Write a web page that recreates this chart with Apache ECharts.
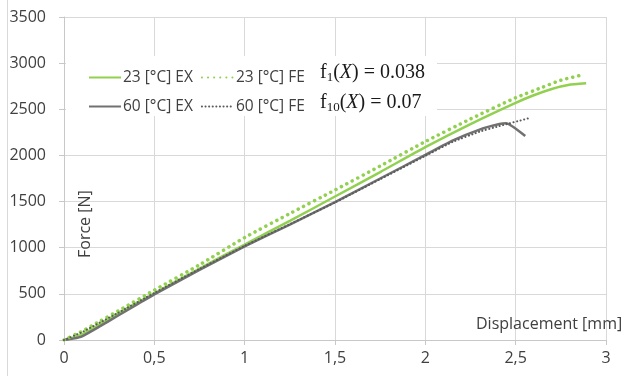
<!DOCTYPE html>
<html>
<head>
<meta charset="utf-8">
<script src="https://cdn.jsdelivr.net/npm/echarts@6/dist/echarts.min.js"></script>
<style>
  html, body { margin: 0; padding: 0; background: #fff; }
  #chart { width: 625px; height: 376px; }
</style>
</head>
<body>
<div id="chart"></div>
<script>
// Force–displacement curves: experiment (EX) vs finite element model (FE)
const ex23X = [0, 0.05, 0.1, 0.2, 0.3, 0.4, 0.5, 0.75, 1.0, 1.25, 1.5, 1.75, 2.0, 2.25, 2.5, 2.6, 2.7, 2.79, 2.89];
const ex23Y = [0, 25, 60, 170, 290, 400, 505, 775, 1035, 1290, 1555, 1820, 2090, 2340, 2570, 2652, 2720, 2763, 2781];

const fe23X = [0, 0.1, 0.2, 0.3, 0.5, 0.75, 1.0, 1.25, 1.5, 1.75, 2.0, 2.25, 2.5, 2.65, 2.75, 2.866];
const fe23Y = [0, 95, 205, 315, 540, 815, 1110, 1370, 1625, 1885, 2150, 2395, 2625, 2740, 2815, 2871];

const ex60X = [0, 0.05, 0.1, 0.2, 0.3, 0.4, 0.5, 0.75, 1.0, 1.25, 1.5, 1.75, 2.0, 2.15, 2.3, 2.41, 2.447, 2.553];
const ex60Y = [0, 15, 40, 150, 265, 380, 495, 760, 1015, 1250, 1495, 1750, 2005, 2160, 2280, 2340, 2348, 2210];

const fe60X = [0, 0.1, 0.2, 0.3, 0.5, 0.75, 1.0, 1.25, 1.5, 1.75, 2.0, 2.15, 2.3, 2.41, 2.577];
const fe60Y = [0, 85, 190, 295, 510, 770, 1020, 1255, 1490, 1742, 1995, 2145, 2257, 2318, 2405];

const seriesNames = ['23 [°C] EX', '23 [°C] FE', '60 [°C] EX', '60 [°C] FE'];
const fitLabels = [['1', '0.038'], ['10', '0.07']];

const xTicks = { min: 0, max: 3, step: 0.5 };
const yTicks = { min: 0, max: 3500, step: 500 };

const zip = (xs, ys) => xs.map((x, i) => [x, ys[i]]);

const green = '#92D050';
const grey = '#717171';
const greyDark = '#5a5a5a';
const labelColor = '#404040';
const uiFont = '"Open Sans", sans-serif';

const chart = echarts.init(document.getElementById('chart'), null, { renderer: 'canvas' });

const fitText = (sub, val) => ({
  type: 'text',
  z: 12,
  style: {
    text: '{f|f}{s|' + sub + '}{f|(}{i|X}{f|) = ' + val + '}',
    rich: {
      f: { fontFamily: '"Liberation Serif", serif', fontSize: 20, fill: '#1a1a1a' },
      i: { fontFamily: '"Liberation Serif", serif', fontSize: 20, fontStyle: 'italic', fill: '#1a1a1a' },
      s: { fontFamily: '"Liberation Serif", serif', fontSize: 13, fill: '#1a1a1a', padding: [9, 0, 0, 0] }
    },
    verticalAlign: 'middle'
  }
});

chart.setOption({
  animation: false,
  backgroundColor: '#fff',
  grid: { left: 64, right: 19, top: 17, bottom: 36, containLabel: false },
  xAxis: {
    type: 'value',
    min: xTicks.min, max: xTicks.max, interval: xTicks.step,
    axisLine: { show: true, lineStyle: { color: '#c8c8c8', width: 1 } },
    axisTick: { show: true, length: 5, lineStyle: { color: '#c8c8c8' } },
    splitLine: { show: true, lineStyle: { color: '#d9d9d9', width: 1 } },
    axisLabel: {
      margin: 10, color: labelColor, fontFamily: uiFont, fontSize: 16,
      formatter: v => String(v).replace('.', ',')
    }
  },
  yAxis: {
    type: 'value',
    min: yTicks.min, max: yTicks.max, interval: yTicks.step,
    axisLine: { show: true, lineStyle: { color: '#c8c8c8', width: 1 } },
    axisTick: { show: true, length: 5, lineStyle: { color: '#c8c8c8' } },
    splitLine: { show: true, lineStyle: { color: '#d9d9d9', width: 1 } },
    axisLabel: { margin: 18, color: labelColor, fontFamily: uiFont, fontSize: 16, formatter: v => String(v) }
  },
  legend: {
    data: seriesNames,
    left: 83, top: 62, width: 230,
    orient: 'horizontal',
    itemWidth: 32, itemHeight: 10, itemGap: 8,
    itemStyle: { opacity: 0 },
    textStyle: { color: labelColor, fontFamily: uiFont, fontSize: 15.5, lineHeight: 21, padding: [0, 0, 0, -3] },
    z: 12
  },
  graphic: [
    { type: 'line', shape: { x1: 7.5, y1: 0, x2: 7.5, y2: 376 }, style: { stroke: '#d9d9d9', lineWidth: 1 }, z: 1 },
    { type: 'rect', shape: { x: 66, y: 56, width: 371, height: 60 }, style: { fill: '#fff' }, z: 5 },
    Object.assign(fitText(fitLabels[0][0], fitLabels[0][1]), { left: 320, top: 63 }),
    Object.assign(fitText(fitLabels[1][0], fitLabels[1][1]), { left: 320, top: 93 }),
    {
      type: 'text', z: 12, left: 476, top: 316,
      style: { text: 'Displacement [mm]', fontFamily: uiFont, fontSize: 16, fill: labelColor }
    },
    {
      type: 'text', z: 12, rotation: Math.PI / 2, x: 77, y: 258,
      style: { text: 'Force [N]', fontFamily: uiFont, fontSize: 16, fill: labelColor }
    }
  ],
  series: [
    {
      name: seriesNames[0], type: 'line', data: zip(ex23X, ex23Y),
      showSymbol: false, symbol: 'none', smooth: 0.2,
      lineStyle: { color: green, width: 2.5 }, itemStyle: { color: green }, z: 3
    },
    {
      name: seriesNames[1], type: 'line', data: zip(fe23X, fe23Y),
      showSymbol: false, symbol: 'none', smooth: 0.2,
      lineStyle: { color: green, width: 3.5, type: [0.1, 6], cap: 'round' }, itemStyle: { color: green }, z: 4
    },
    {
      name: seriesNames[2], type: 'line', data: zip(ex60X, ex60Y),
      showSymbol: false, symbol: 'none', smooth: 0.15,
      lineStyle: { color: grey, width: 2.5 }, itemStyle: { color: grey }, z: 3
    },
    {
      name: seriesNames[3], type: 'line', data: zip(fe60X, fe60Y),
      showSymbol: false, symbol: 'none', smooth: 0.15,
      lineStyle: { color: greyDark, width: 2, type: [0.1, 3.5], cap: 'round' }, itemStyle: { color: greyDark }, z: 4
    }
  ]
});
</script>
</body>
</html>
